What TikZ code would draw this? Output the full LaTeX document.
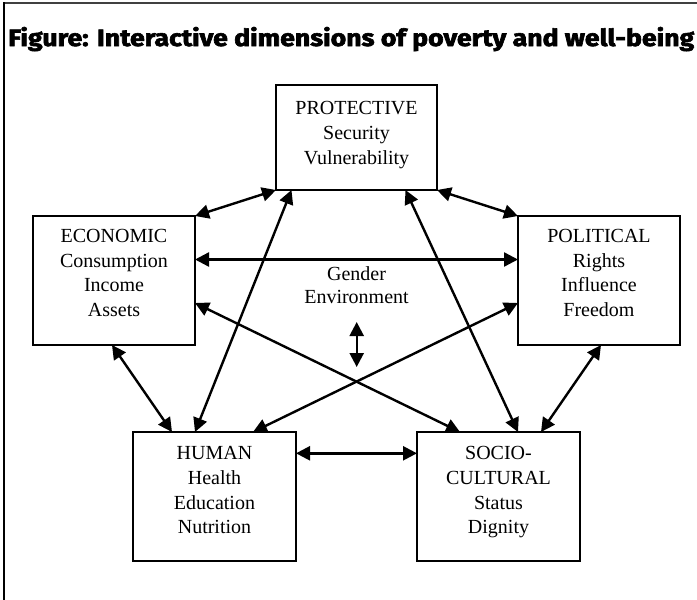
\documentclass[tikz,border=0pt]{standalone}
\usepackage{fontspec}
\usepackage{graphicx}
\setmainfont{Liberation Serif}
\newfontfamily\titlefont{Fira Sans}[BoldFeatures={FakeBold=2.5}]
\usetikzlibrary{arrows.meta}
\begin{document}
\begin{tikzpicture}[x=1pt,y=-1pt,
  dimbox/.style={draw, line width=1.6pt, inner sep=0pt, outer sep=0pt},
  lbl/.style={inner sep=0pt, align=center, font=\fontsize{20}{24.8}\selectfont},
  biarrow/.style={line width=2.4pt, {Triangle[length=14pt,width=14pt]}-{Triangle[length=14pt,width=14pt]}}]
\useasboundingbox (0,0) rectangle (697,600);
\fill[white] (0,0) rectangle (697,600);
% frame
\draw[line width=1.5pt, black!75] (697,3) -- (4,3);
\draw[line width=2pt] (4,2.3) -- (4,600);
% title
\node[anchor=base west, inner sep=0pt] (title) at (8,46)
  {\resizebox{686pt}{\height}{\titlefont\bfseries\fontsize{23.5}{28}\selectfont Figure: Interactive dimensions of poverty and well-being}};
% boxes
\node[dimbox, minimum width=161pt, minimum height=105pt] (prot) at (356.5,137.5) {};
\node[dimbox, minimum width=162pt, minimum height=129pt] (eco) at (114,280.5) {};
\node[dimbox, minimum width=162pt, minimum height=129pt] (pol) at (599,280.5) {};
\node[dimbox, minimum width=163pt, minimum height=129pt] (hum) at (214.5,496.5) {};
\node[dimbox, minimum width=163pt, minimum height=129pt] (soc) at (498.5,496.5) {};
% labels
\node[lbl, anchor=north] (protl) at (356.5,101) {PROTECTIVE\\Security\\Vulnerability};
\node[lbl, anchor=north] (ecol) at (114,228.8) {ECONOMIC\\Consumption\\Income\\Assets};
\node[lbl, anchor=north] (poll) at (599,228.8) {POLITICAL\\Rights\\Influence\\Freedom};
\node[lbl, anchor=north] (huml) at (214.5,446) {HUMAN\\Health\\Education\\Nutrition};
\node[lbl, anchor=north] (socl) at (498.5,446) {SOCIO-\\CULTURAL\\Status\\Dignity};
\node[lbl, font=\fontsize{20}{23.5}\selectfont] (gen) at (356.5,285) {Gender\\Environment};
% small vertical arrow
\coordinate (va) at (356.7,322);
\coordinate (vb) at (356.7,367);
\draw[biarrow] (va) -- (vb);
% connectors
\draw[biarrow] (eco.north east) -- (prot.south west);
\draw[biarrow] (prot.south east) -- (pol.north west);
\draw[biarrow] ([yshift=21pt]eco.east) -- ([yshift=21pt]pol.west);
\draw[biarrow] ([yshift=-22.5pt]eco.east) -- ([xshift=-38.5pt]soc.north);
\draw[biarrow] ([yshift=-22.5pt]pol.west) -- ([xshift=38.5pt]hum.north);
\draw[biarrow] ([xshift=-2pt]eco.south) -- ([xshift=-42.5pt]hum.north);
\draw[biarrow] ([xshift=2pt]pol.south) -- ([xshift=42.5pt]soc.north);
\draw[biarrow] ([xshift=-65pt]prot.south) -- ([xshift=-19.5pt]hum.north);
\draw[biarrow] ([xshift=49pt]prot.south) -- ([xshift=19.5pt]soc.north);
\draw[biarrow] ([yshift=43.2pt]hum.east) -- ([yshift=43.2pt]soc.west);
\end{tikzpicture}
\end{document}
